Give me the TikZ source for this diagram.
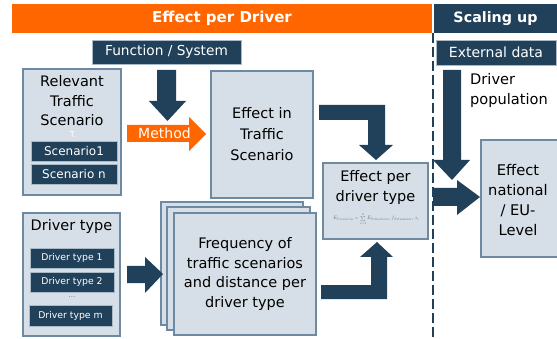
\documentclass[tikz,border=0pt]{standalone}
\usepackage{fontspec}
\usepackage{graphicx}
\setmainfont{DejaVu Sans}
\usetikzlibrary{positioning}
\definecolor{navy}{RGB}{33,65,90}
\definecolor{boxfill}{RGB}{214,223,231}
\definecolor{boxedge}{RGB}{110,138,162}
\definecolor{orangehead}{RGB}{255,102,0}
\tikzset{
  lightbox/.style={draw=boxedge, fill=boxfill, line width=1.3pt, inner sep=0pt, align=center, font=\fontsize{14.5}{19.5}\selectfont},
  darkbox/.style={draw=boxedge!60, fill=navy, text=white, line width=0.8pt, inner sep=0pt, font=\fontsize{12}{14}\selectfont},
  bodytext/.style={align=center, inner sep=0pt, font=\fontsize{14.5}{19.5}\selectfont},
  headbar/.style={text=white, inner sep=0pt, minimum height=29pt, font=\bfseries\fontsize{15}{18}\selectfont},
}
\begin{document}
\begin{tikzpicture}[x=1pt,y=-1pt]
  \clip (0,0) rectangle (557,339);
  \fill[white] (0,0) rectangle (557,339);
  %HEADERS
  \node[headbar, fill=orangehead, minimum width=420pt] (head) at (222,18.5) {Effect per Driver};
  \node[headbar, fill=navy, minimum width=124pt, font=\bfseries\fontsize{14.3}{18}\selectfont] (scal) at (495.5,18.5) {Scaling up};
  \coordinate (divtop) at (433,33);
  \coordinate (divbot) at (433,339);
  \draw[navy, line width=1.5pt, dash pattern=on 10pt off 4pt] (divtop) -- (divbot);
  \node[darkbox, minimum width=149pt, minimum height=24pt, font=\fontsize{13.7}{16}\selectfont] (func) at (166.5,52) {Function / System};
  \node[darkbox, minimum width=120pt, minimum height=25pt, font=\fontsize{14}{16}\selectfont] (ext) at (496,52.5) {External data};
  %SCENARIOS
  \node[lightbox, minimum width=98pt, minimum height=126pt] (rel) at (72,132) {};
  \node[bodytext, below=7pt of rel.north] (reltxt) {Relevant\\Traffic\\Scenario};
  \node[text=white, inner sep=0pt, font=\fontsize{8}{8}\selectfont] (tmark) at (73,135) {T.};
  \node[darkbox, minimum width=86pt, minimum height=20pt] (sc1) at (74,151) {Scenario1};
  \node[darkbox, minimum width=86pt, minimum height=20pt] (scn) at (74,174) {Scenario n};
  %DRIVER TYPES
  \node[lightbox, minimum width=97pt, minimum height=123pt] (drv) at (71.5,274.5) {};
  \node[bodytext] (drvtxt) at (71.5,227) {Driver type};
  \node[darkbox, minimum width=84pt, minimum height=20pt, font=\fontsize{9.3}{11}\selectfont] (dt1) at (72,258) {Driver type 1};
  \node[darkbox, minimum width=84pt, minimum height=20pt, font=\fontsize{9.3}{11}\selectfont] (dt2) at (72,282) {Driver type 2};
  \node[inner sep=0pt, text=navy!70, font=\fontsize{7}{7}\selectfont] (dots) at (72,297) {...};
  \node[darkbox, minimum width=83pt, minimum height=21pt, font=\fontsize{9.3}{11}\selectfont] (dtm) at (70.5,315.5) {Driver type m};
  %EFFECT BOXES
  \node[lightbox, minimum width=102pt, minimum height=127pt, font=\fontsize{14.5}{21}\selectfont] (eits) at (262,134.5) {Effect in\\Traffic\\Scenario};
  \node[lightbox, minimum width=142pt, minimum height=123pt] (freqc) at (232,263.5) {};
  \node[lightbox, minimum width=143pt, minimum height=123pt] (freqb) at (238.5,268.5) {};
  \node[lightbox, minimum width=142pt, minimum height=122pt] (freq) at (245,274) {Frequency of\\traffic scenarios\\and distance per\\driver type};
  \node[lightbox, minimum width=105pt, minimum height=76pt] (epd) at (375.5,201) {};
  \node[bodytext] (epdtxt) at (375.5,187.5) {Effect per\\driver type};
  \node[inner sep=0pt, text=gray!80!black] (formula) at (376,219) {\resizebox{86pt}{!}{$E_{Szenario}=\sum\limits_{i=1}^{n}E_{Situation\,i}\;f_{Situation\,i}\;s_i$}};
  \node[lightbox, minimum width=80pt, minimum height=117pt] (nat) at (521,198.5) {};
  \node[bodytext, font=\fontsize{14.7}{20}\selectfont] (nattxt) at (518,200) {Effect\\national\\/ EU-\\Level};
  \node[bodytext, align=left, anchor=west, font=\fontsize{14.6}{20}\selectfont] (pop) at (470,90) {Driver\\population};
  %ARROWS
  \fill[navy] (157,70) -- (176,70) -- (176,101) -- (186,101) -- (167.5,121) -- (149,101) -- (157,101) -- cycle;
  \fill[orangehead] (127,125) -- (189,125) -- (189,117) -- (206,134) -- (189,151) -- (189,142) -- (127,142) -- cycle;
  \node[text=white, inner sep=0pt, font=\fontsize{14}{16}\selectfont] (method) at (164.5,133.5) {Method};
  \fill[navy] (319,105) -- (385,105) -- (385,145) -- (393,145) -- (376,160) -- (359,145) -- (368,145) -- (368,120) -- (319,120) -- cycle;
  \fill[navy] (321,299) -- (387,299) -- (387,257) -- (393,257) -- (377,242) -- (360,257) -- (371,257) -- (371,285) -- (321,285) -- cycle;
  \fill[navy] (127,266) -- (145,266) -- (145,257) -- (163,274) -- (145,293) -- (145,283) -- (127,283) -- cycle;
  \fill[navy] (443,70) -- (461,70) -- (461,160) -- (470,160) -- (452,180) -- (433,160) -- (443,160) -- cycle;
  \fill[navy] (433,188) -- (457,188) -- (457,180) -- (480,197) -- (457,215) -- (457,206) -- (433,206) -- cycle;
\end{tikzpicture}
\end{document}
